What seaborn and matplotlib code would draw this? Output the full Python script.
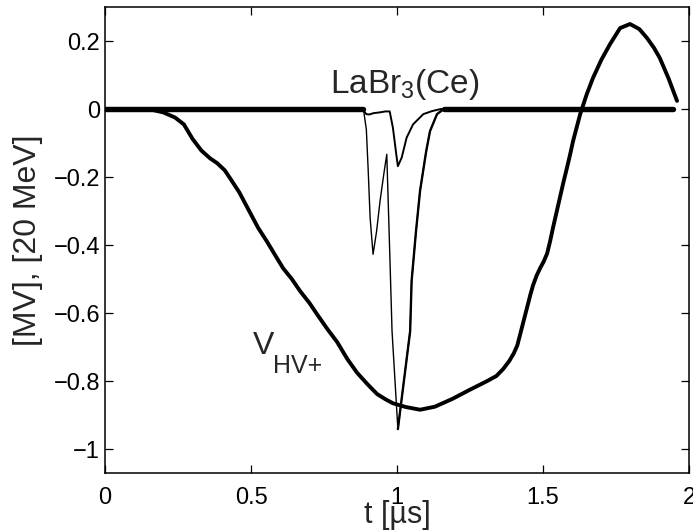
import numpy as np
import matplotlib
matplotlib.use("Agg")
import matplotlib.pyplot as plt
import seaborn as sns

# ---------------- data ----------------
# V_HV+ : high-voltage pulse, time in microseconds, value in MV
t_v = [0.0, 0.15, 0.20, 0.24, 0.27, 0.30, 0.33, 0.36, 0.384, 0.41, 0.428, 0.46,
       0.497, 0.525, 0.555, 0.583, 0.61, 0.64, 0.668, 0.70, 0.726, 0.76, 0.795,
       0.83, 0.863, 0.90, 0.932, 0.96, 0.986, 1.03, 1.079, 1.13, 1.19, 1.25,
       1.308, 1.34, 1.363, 1.385, 1.40, 1.412, 1.421, 1.433, 1.445, 1.457, 1.466,
       1.478, 1.49, 1.502, 1.514, 1.524, 1.534, 1.546, 1.558, 1.57, 1.582, 1.593,
       1.603, 1.615, 1.627, 1.65, 1.671, 1.70, 1.729, 1.764, 1.798, 1.83, 1.856,
       1.88, 1.90, 1.93, 1.959]
v_hv = [0.0, 0.0, -0.01, -0.025, -0.045, -0.088, -0.122, -0.145, -0.159, -0.18,
        -0.203, -0.245, -0.305, -0.35, -0.39, -0.43, -0.468, -0.50, -0.535, -0.57,
        -0.603, -0.645, -0.685, -0.735, -0.775, -0.81, -0.838, -0.853, -0.865,
        -0.876, -0.884, -0.875, -0.852, -0.825, -0.80, -0.785, -0.765, -0.74,
        -0.718, -0.695, -0.665, -0.625, -0.585, -0.545, -0.518, -0.49, -0.468,
        -0.449, -0.425, -0.39, -0.35, -0.305, -0.26, -0.215, -0.173, -0.133,
        -0.094, -0.055, -0.016, 0.044, 0.091, 0.145, 0.19, 0.238, 0.25, 0.235,
        0.209, 0.18, 0.15, 0.09, 0.024]

# LaBr3(Ce) detector trace, strong channel (two peaks)
t_la = [0.0, 0.885, 0.895, 0.901, 0.908, 0.918, 0.93, 0.942, 0.955, 0.965,
        0.976, 0.983, 1.003, 1.045, 1.05, 1.065, 1.079, 1.10, 1.113, 1.137,
        1.16, 1.945]
v_la = [0.0, 0.0, -0.06, -0.173, -0.32, -0.427, -0.36, -0.27, -0.19, -0.133,
        -0.447, -0.653, -0.941, -0.653, -0.506, -0.36, -0.24, -0.124, -0.065,
        -0.015, 0.0, 0.0]

# LaBr3(Ce) detector trace, weak channel
t_lb = [0.0, 0.885, 0.895, 0.905, 0.92, 0.94, 0.96, 0.975, 0.986, 0.999,
        1.003, 1.016, 1.033, 1.055, 1.09, 1.12, 1.15, 1.945]
v_lb = [0.0, -0.004, -0.015, -0.016, -0.012, -0.01, -0.007, -0.007, -0.055,
        -0.143, -0.168, -0.143, -0.084, -0.045, -0.015, -0.006, 0.0, 0.0]

x_ticks = [0, 0.5, 1, 1.5, 2]
x_tick_labels = ["0", "0.5", "1", "1.5", "2"]
y_ticks = [-1, -0.8, -0.6, -0.4, -0.2, 0, 0.2]
y_tick_labels = ["\u22121", "\u22120.8", "\u22120.6", "\u22120.4", "\u22120.2", "0", "0.2"]

# ---------------- style ----------------
sns.set_style("ticks")
plt.rcParams["font.family"] = ["Liberation Sans", "DejaVu Sans"]
plt.rcParams["mathtext.fontset"] = "custom"
plt.rcParams["mathtext.rm"] = "Liberation Sans"
plt.rcParams["mathtext.it"] = "Liberation Sans:italic"

fig = plt.figure(figsize=(6.93, 5.30), dpi=100)
ax = fig.add_axes([105 / 693, 1 - 473 / 530, (689 - 105) / 693, (473 - 7) / 530])

t_la_arr = np.array(t_la)
v_la_arr = np.array(v_la)
quiet_left = t_la_arr <= 0.885
quiet_right = t_la_arr >= 1.16
recovery = t_la_arr >= 1.003

# noisy baseline of the detector trace (drawn as a thick band)
sns.lineplot(x=t_la_arr[quiet_left], y=v_la_arr[quiet_left], ax=ax, color="black",
             lw=3.9, estimator=None, sort=False)
sns.lineplot(x=t_la_arr[quiet_right], y=v_la_arr[quiet_right], ax=ax, color="black",
             lw=3.9, estimator=None, sort=False)
# pulses
sns.lineplot(x=t_lb, y=v_lb, ax=ax, color="black", lw=1.4, estimator=None, sort=False)
sns.lineplot(x=t_la, y=v_la, ax=ax, color="black", lw=1.0, estimator=None, sort=False)
sns.lineplot(x=t_la_arr[recovery], y=v_la_arr[recovery], ax=ax, color="black",
             lw=1.7, estimator=None, sort=False)
# HV pulse
sns.lineplot(x=t_v, y=v_hv, ax=ax, color="black", lw=2.8, estimator=None, sort=False)

ax.set_xlim(0, 2)
ax.set_ylim(-1.07, 0.30)
ax.set_xticks(x_ticks)
ax.set_xticklabels(x_tick_labels)
ax.set_yticks(y_ticks)
ax.set_yticklabels(y_tick_labels)

for s in ax.spines.values():
    s.set_visible(True)
    s.set_linewidth(1.1)
    s.set_color("black")

ax.tick_params(axis="both", direction="in", length=5.5, width=0.9, color="black",
               top=True, right=True, labelsize=17, labelcolor="black")
ax.tick_params(axis="x", pad=10)
ax.tick_params(axis="y", pad=3.5)

ax.set_xlabel("t [\u00b5s]", fontsize=22)
ax.set_ylabel("[MV], [20 MeV]", fontsize=23)
ax.xaxis.set_label_coords(0.5, -0.058)
ax.yaxis.set_label_coords(-0.106, 0.5)

# annotations
ax.text(1.027, 0.047, r"LaBr$_{\mathrm{3}}$(Ce)", fontsize=24, ha="center",
        va="baseline")
ax.text(0.507, -0.721, "V", fontsize=23, ha="left", va="baseline")
ax.text(0.575, -0.776, "HV+", fontsize=18, ha="left", va="baseline")

fig.savefig("out.png", dpi=100)
